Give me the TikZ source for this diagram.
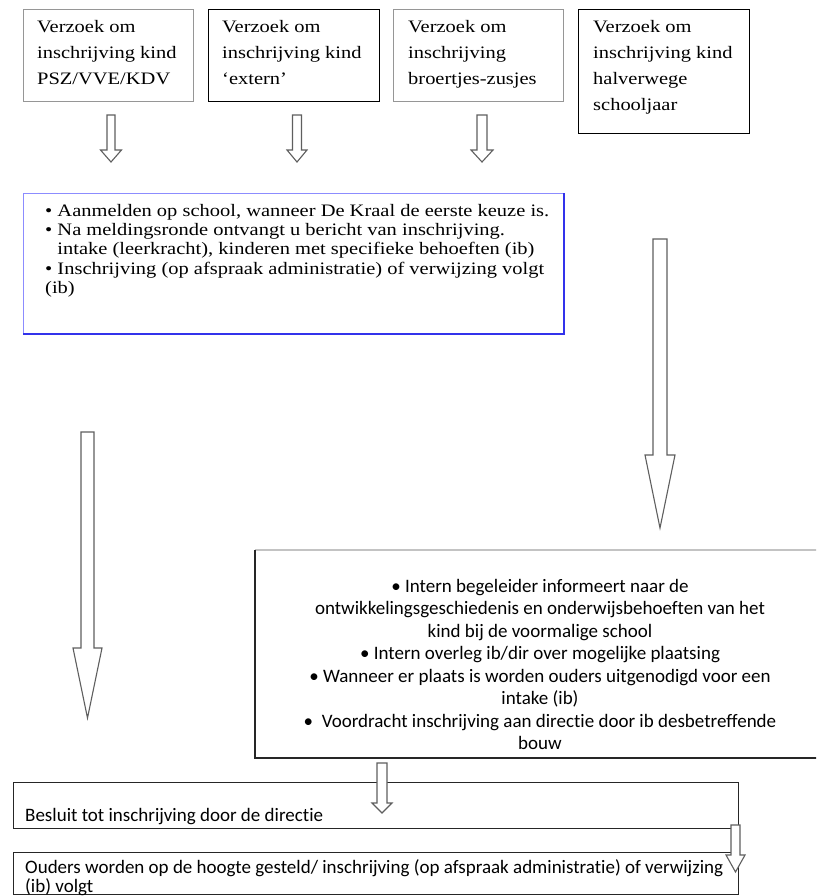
\documentclass[tikz,border=0pt]{standalone}
\usepackage{fontspec}
\setmainfont{Liberation Serif}[FakeStretch=1.17]
\newfontfamily\calfont{Carlito}[Ligatures={NoCommon,NoDiscretionary,NoContextual}]
\usetikzlibrary{calc}
\definecolor{boxgray}{RGB}{150,150,150}
\definecolor{lightblue}{RGB}{140,140,255}
\definecolor{darkblue}{RGB}{50,50,235}
\definecolor{arrowgray}{RGB}{95,95,95}
\definecolor{edgegray}{RGB}{195,195,195}
\newcommand\hollowarrow[6]{%
  \draw[harrow] ({#1-#4},#2) -- ({#1+#4},#2) -- ({#1+#4},{#3-#6}) -- ({#1+#5},{#3-#6}) -- (#1,#3) -- ({#1-#5},{#3-#6}) -- ({#1-#4},{#3-#6}) -- cycle;}
\begin{document}
\begin{tikzpicture}[x=1pt,y=-1pt,
  harrow/.style={draw=arrowgray, line width=1.1pt, fill=white, line join=miter},
  sbox/.style={anchor=north west, inner sep=0pt, line width=1pt},
  stext/.style={anchor=north west, inner sep=0pt, align=left, font=\fontsize{17.5}{26}\selectfont},
  btext/.style={anchor=north west, inner sep=0pt, align=left, font=\fontsize{17.5}{19.3}\selectfont},
  ctext/.style={inner sep=0pt, align=center, font=\calfont\fontsize{19}{22.5}\selectfont},
  ltext/.style={anchor=north west, inner sep=0pt, align=left, font=\calfont\fontsize{19}{19}\selectfont}]
\useasboundingbox (0,0) rectangle (816,896);
\clip (0,0) rectangle (816,896);
\fill[white] (0,0) rectangle (816,896);

% top boxes
\node[sbox, draw=boxgray, minimum width=170pt, minimum height=92pt] (b1) at (23,9) {};
\node[sbox, draw=black, line width=1.3pt, minimum width=171pt, minimum height=92pt] (b2) at (208,9) {};
\node[sbox, draw=boxgray, minimum width=170pt, minimum height=92pt] (b3) at (393,9) {};
\node[sbox, draw=black, line width=1.3pt, minimum width=171pt, minimum height=124pt] (b4) at (578,9) {};
\node[stext] (t1) at (37,20) {Verzoek om\\inschrijving kind\\PSZ/VVE/KDV};
\node[stext] (t2) at (222,20) {Verzoek om\\inschrijving kind\\‘extern’};
\node[stext] (t3) at (408,20) {Verzoek om\\inschrijving\\broertjes-zusjes};
\node[stext] (t4) at (593,20) {Verzoek om\\inschrijving kind\\halverwege\\schooljaar};

% small arrows under top boxes
\hollowarrow{111}{115}{162}{4}{10.5}{12}
\hollowarrow{297}{115}{162}{4.5}{10}{12}
\hollowarrow{482}{115}{162}{5}{11}{12}

% blue box
\node[sbox, draw=lightblue, minimum width=540pt, minimum height=140pt] (blue) at (23,193) {};
\draw[darkblue, line width=1.2pt] (blue.north east) -- (blue.south east) -- (blue.south west);
\node[btext] (bt) at (45,204) {• Aanmelden op school, wanneer De Kraal de eerste keuze is.\\
• Na meldingsronde ontvangt u bericht van inschrijving.\\
\phantom{• }intake (leerkracht), kinderen met specifieke behoeften (ib)\\
• Inschrijving (op afspraak administratie) of verwijzing volgt\\
(ib)};

% big arrows
\hollowarrow{660}{239}{528}{7}{15}{73}
\hollowarrow{87.5}{432}{718}{6.5}{14.5}{70}

% right box
\node[sbox, draw=none, minimum width=570pt, minimum height=207pt] (rb) at (255,550) {};
\draw[edgegray, line width=1.3pt] (rb.north west) -- (rb.north east);
\draw[black!85, line width=1.3pt] (rb.north west) -- (rb.south west) -- (rb.south east);
\node[ctext, anchor=north] (rt) at (540,579) {• Intern begeleider informeert naar de\\
ontwikkelingsgeschiedenis en onderwijsbehoeften van het\\
kind bij de voormalige school\\
• Intern overleg ib/dir over mogelijke plaatsing\\
• Wanneer er plaats is worden ouders uitgenodigd voor een\\
intake (ib)\\
•\ \ Voordracht inschrijving aan directie door ib desbetreffende\\
bouw};

% bottom boxes
\node[sbox, draw=black!85, line width=1.3pt, minimum width=725pt, minimum height=46pt] (besluit) at (13,782) {};
\node[sbox, draw=black!85, line width=1.3pt, minimum width=725pt, minimum height=42pt] (ouders) at (13,852) {};
\node[ltext] (bst) at (25,808) {Besluit tot inschrijving door de directie};
\node[ltext] (ot) at (25,859) {Ouders worden op de hoogte gesteld/ inschrijving (op afspraak administratie) of verwijzing\\(ib) volgt};

% small arrows at the bottom
\hollowarrow{382}{763}{813}{5}{10}{10}
\hollowarrow{735.5}{825}{872}{4.5}{9.5}{17}
\end{tikzpicture}
\end{document}
